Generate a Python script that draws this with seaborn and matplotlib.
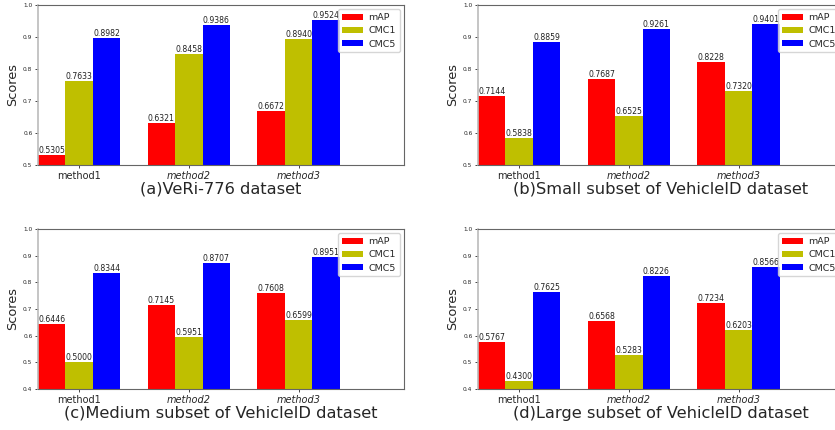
import pandas as pd
import matplotlib
matplotlib.use('Agg')
import matplotlib.pyplot as plt
import seaborn as sns

sns.set_style('ticks')
plt.rcParams['font.family'] = ['DejaVu Sans']

methods = ['method1', 'method2', 'method3']
metrics = ['mAP', 'CMC1', 'CMC5']
colors = ['red', '#bfbf00', 'blue']

# scores per panel: rows = metric, cols = method
veri = [[0.5305, 0.6321, 0.6672],
        [0.7633, 0.8458, 0.8940],
        [0.8982, 0.9386, 0.9524]]
small = [[0.7144, 0.7687, 0.8228],
         [0.5838, 0.6525, 0.7320],
         [0.8859, 0.9261, 0.9401]]
medium = [[0.6446, 0.7145, 0.7608],
          [0.5000, 0.5951, 0.6599],
          [0.8344, 0.8707, 0.8951]]
large = [[0.5767, 0.6568, 0.7234],
         [0.4300, 0.5283, 0.6203],
         [0.7625, 0.8226, 0.8566]]

titles = ['(a)VeRi-776 dataset',
          '(b)Small subset of VehicleID dataset',
          '(c)Medium subset of VehicleID dataset',
          '(d)Large subset of VehicleID dataset']
ymins = [0.5, 0.5, 0.4, 0.4]

W, H = 835, 430
# axes boxes in pixels: left, top, right, bottom
boxes = [(38, 5, 404, 165), (478, 5, 844, 165),
         (38, 229, 404, 389), (478, 229, 844, 389)]


def to_frame(vals):
    rows = []
    for mi, metric in enumerate(metrics):
        for j, m in enumerate(methods):
            rows.append({'method': m, 'metric': metric, 'score': vals[mi][j]})
    return pd.DataFrame(rows)


fig = plt.figure(figsize=(W / 100, H / 100), dpi=100)

for vals, title, ymin, (l, t, r, b) in zip([veri, small, medium, large], titles, ymins, boxes):
    ax = fig.add_axes([l / W, 1 - b / H, (r - l) / W, (b - t) / H])
    df = to_frame(vals)
    sns.barplot(data=df, x='method', y='score', hue='metric', palette=colors,
                saturation=1, width=0.75, errorbar=None, linewidth=0, ax=ax)
    for c in ax.containers:
        ax.bar_label(c, fmt='%.4f', fontsize=5.6, padding=0, color='#222222')
    ax.set_ylim(ymin, 1.0)
    ax.set_xlim(-0.375, 2.96)
    ax.set_yticks([round(ymin + 0.1 * k, 1) for k in range(int(round((1 - ymin) / 0.1)) + 1)])
    ax.tick_params(axis='y', labelsize=4.2, length=2, width=0.6, pad=2)
    ax.tick_params(axis='x', labelsize=7, length=2, width=0.6, pad=2)
    for lab in ax.get_xticklabels()[1:]:
        lab.set_style('italic')
    ax.set_ylabel('Scores', fontsize=9.3, labelpad=3)
    ax.set_xlabel(title, fontsize=11.7, labelpad=1)
    for s in ax.spines.values():
        s.set_color('#666666')
        s.set_linewidth(0.8)
    ax.spines['left'].set_color('#bbbbbb')
    ax.spines['left'].set_linewidth(1.2)
    ax.legend(loc='upper right', fontsize=6.8, frameon=True, handlelength=2.2,
              handleheight=0.6, handletextpad=0.6, labelspacing=0.45,
              borderpad=0.4, borderaxespad=0.45, title=None)

fig.savefig('out.png', dpi=100)
